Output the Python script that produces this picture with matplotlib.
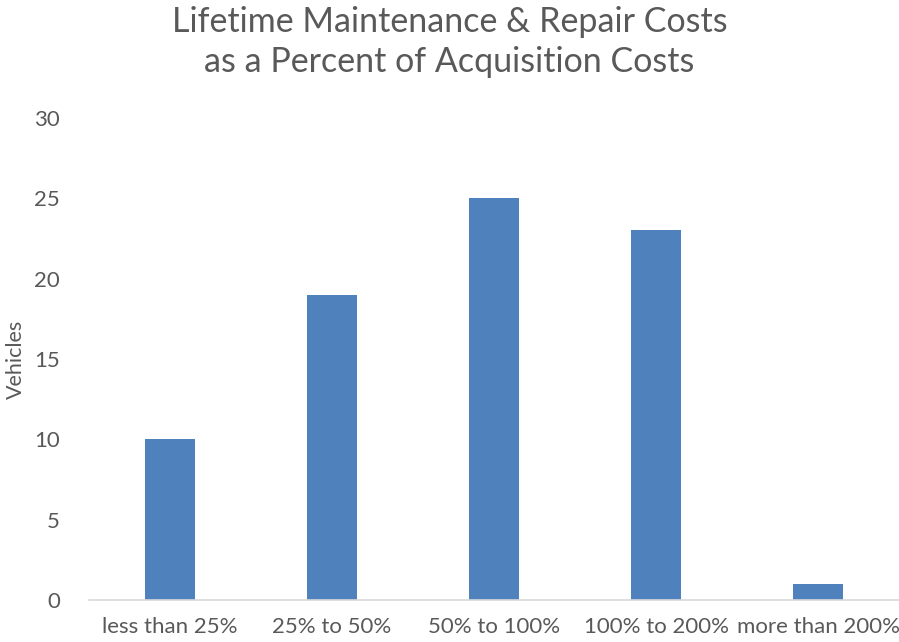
import matplotlib.pyplot as plt
import numpy as np

plt.rcParams['font.family'] = 'Lato'

categories = ['less than 25%', '25% to 50%', '50% to 100%', '100% to 200%', 'more than 200%']
vehicles = [10, 19, 25, 23, 1]

fig = plt.figure(figsize=(8.99, 6.42), dpi=100)
ax = fig.add_axes([0.099, 0.0654, 0.901, 0.751])

x = np.arange(len(categories))
ax.bar(x, vehicles, width=0.31, color='#4F81BD', zorder=2)

ax.set_xlim(-0.5, len(categories) - 0.5)
ax.set_ylim(0, 30)
ax.set_yticks(range(0, 31, 5))
ax.set_xticks(x)
ax.set_xticklabels(categories)

grey = '#595959'
ax.tick_params(axis='both', length=0, labelsize=16, colors=grey)
ax.tick_params(axis='x', pad=12)
ax.tick_params(axis='y', pad=21)

for side in ['top', 'right', 'left']:
    ax.spines[side].set_visible(False)
ax.spines['bottom'].set_color('#D9D9D9')
ax.spines['bottom'].set_linewidth(1.2)

ax.set_ylabel('Vehicles', fontsize=15.5, color=grey, labelpad=6)

fig.text(0.5, 0.99, 'Lifetime Maintenance & Repair Costs\nas a Percent of Acquisition Costs',
         ha='center', va='top', fontsize=24.5, color=grey, linespacing=1.3)

fig.savefig('out.png', dpi=100)
